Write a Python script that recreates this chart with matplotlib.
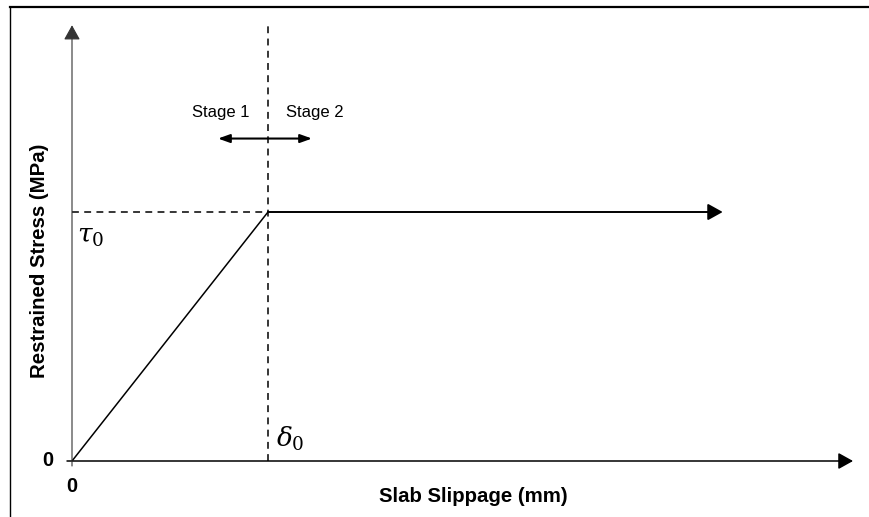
import matplotlib.pyplot as plt

# schematic bond-slip law (units: delta0 = 1, tau0 = 1)
slip = [0.0, 1.0, 3.32]
stress = [0.0, 1.0, 1.0]
delta0 = 1.0
tau0 = 1.0
x_axis_end = 3.985
y_axis_end = 1.75
stage_labels = ["Stage 1", "Stage 2"]

W, H = 869, 517
fig = plt.figure(figsize=(W / 100, H / 100), dpi=100)
ax = fig.add_axes([0, 0, 1, 1])
# origin sits at pixel (72, 461); 196 px per slip unit, 249 px per stress unit
sx, sy = 196.0, 249.0
ox, oy = 72.0, H - 461.0
ax.set_xlim(-ox / sx, (W - ox) / sx)
ax.set_ylim(-oy / sy, (H - oy) / sy)
ax.axis("off")

# frame (top and left only)
fig.add_artist(plt.Line2D([9.5 / W, 1.0], [1 - 6.5 / H, 1 - 6.5 / H], color="black", lw=1.6,
                          transform=fig.transFigure))
fig.add_artist(plt.Line2D([9.5 / W, 9.5 / W], [0, 1 - 6.5 / H], color="black", lw=1.0,
                          transform=fig.transFigure))

head = "-|>,head_length=0.9,head_width=0.5"

# axes with arrow heads
ax.annotate("", xy=(x_axis_end, 0), xytext=(-5 / sx, 0),
            arrowprops=dict(arrowstyle=head, color="black", lw=1.1, shrinkA=0, shrinkB=0))
ax.annotate("", xy=(0, y_axis_end), xytext=(0, -5 / sy),
            arrowprops=dict(arrowstyle=head, color="#333333", lw=0.8, shrinkA=0, shrinkB=0))

# dashed guides
ax.plot([0, delta0], [tau0, tau0], color="black", lw=1.1, ls=(0, (4.5, 3.5)))
ax.plot([delta0, delta0], [0, y_axis_end + 0.01], color="black", lw=1.1, ls=(0, (4.5, 3.5)))

# bond-slip curve
ax.plot(slip[:2], stress[:2], color="black", lw=1.1, solid_capstyle="butt")
ax.annotate("", xy=(slip[2], stress[2]), xytext=(slip[1], stress[1]),
            arrowprops=dict(arrowstyle=head, color="black", lw=1.4, shrinkA=0, shrinkB=0))

# stage arrow
ax.annotate("", xy=(delta0 - 50 / sx, 1.295), xytext=(delta0 + 44 / sx, 1.295),
            arrowprops=dict(arrowstyle="<|-|>,head_length=0.7,head_width=0.25", color="black",
                            lw=1.5, shrinkA=0, shrinkB=0))
ax.text(delta0 - 19 / sx, 1.40, stage_labels[0], ha="right", va="center", fontsize=12,
        family="Liberation Sans")
ax.text(delta0 + 18 / sx, 1.40, stage_labels[1], ha="left", va="center", fontsize=12,
        family="Liberation Sans")

# symbols
plt.rcParams["mathtext.fontset"] = "dejavuserif"
ax.text(5 / sx, tau0 - 24 / sy, r"$\tau_0$", ha="left", va="center", fontsize=19)
ax.text(delta0 + 8 / sx, 22 / sy, r"$\delta_0$", ha="left", va="center", fontsize=19)

# tick labels and axis titles
ax.text(-24 / sx, 0, "0", ha="center", va="center", fontsize=14.5, fontweight="bold",
        family="Liberation Sans")
ax.text(0, -25 / sy, "0", ha="center", va="center", fontsize=14.5, fontweight="bold",
        family="Liberation Sans")
ax.text((473 - ox) / sx, -36 / sy, "Slab Slippage (mm)", ha="center", va="center",
        fontsize=14.7, fontweight="bold", family="Liberation Sans")
ax.text(-32 / sx, (H - 261 - oy) / sy, "Restrained Stress (MPa)", ha="center", va="center",
        rotation=90, fontsize=14.7, fontweight="bold", family="Liberation Sans")

fig.savefig("out.png", dpi=100)
